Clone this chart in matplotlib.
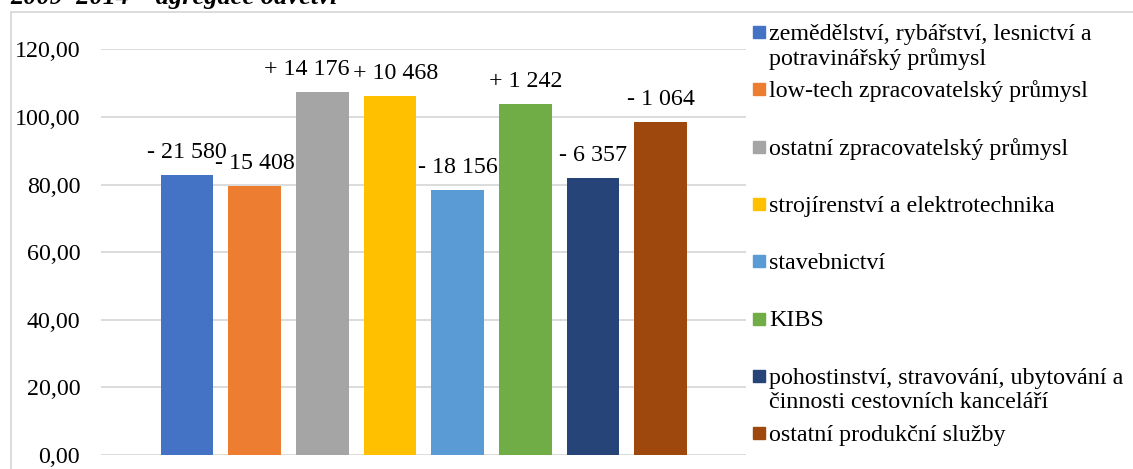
import matplotlib
matplotlib.use('Agg')
import matplotlib.pyplot as plt
from matplotlib.patches import Rectangle

plt.rcParams['font.family'] = ['Liberation Serif', 'DejaVu Serif']

# data
sectors = ['zemědělství, rybářství, lesnictví a\npotravinářský průmysl',
           'low-tech zpracovatelský průmysl',
           'ostatní zpracovatelský průmysl',
           'strojírenství a elektrotechnika',
           'stavebnictví',
           'KIBS',
           'pohostinství, stravování, ubytování a\nčinnosti cestovních kanceláří',
           'ostatní produkční služby']
index_values = [82.7, 79.5, 107.3, 106.1, 78.3, 103.7, 81.9, 98.4]
change_labels = ['- 21 580', '- 15 408', '+ 14 176', '+ 10 468',
                 '- 18 156', '+ 1 242', '- 6 357', '- 1 064']
colors = ['#4472C4', '#ED7D31', '#A5A5A5', '#FFC000',
          '#5B9BD5', '#70AD47', '#264478', '#9E480E']
yticks = [0, 20, 40, 60, 80, 100, 120]

# two labels were nudged sideways in the original (points)
label_dx = [0, 0, -11.5, 4.3, 0, 0, 0, 0]

W, H = 1133, 469
FS = 17.3
fig = plt.figure(figsize=(W / 100, H / 100), dpi=100)

# outer chart border (cut by image edges on right/bottom)
fig.patches.append(Rectangle((11 / W, -0.1), 1.2, 1 - 12 / H + 0.1,
                             transform=fig.transFigure, fill=False,
                             edgecolor='#d9d9d9', lw=1.3))

# cut-off caption above the chart
fig.text(10 / W, 1 - 4 / H, '2009–2014 – agregace odvětví', fontsize=19,
         fontweight='bold', fontstyle='italic', va='baseline', ha='left')

ax = fig.add_axes([101 / W, (H - 455) / H, 645 / W, (455 - 49.3) / H])
x = range(len(index_values))
ax.bar(x, index_values, width=0.78, color=colors, zorder=3)

for i, (v, lbl) in enumerate(zip(index_values, change_labels)):
    ax.annotate(lbl, xy=(i, v), xytext=(label_dx[i], 12.4),
                textcoords='offset points',
                ha='center', va='baseline', fontsize=FS, zorder=4)

ax.set_xlim(-1.27, 8.26)
ax.set_ylim(0, 120)
ax.set_yticks(yticks)
ax.set_yticklabels([f'{t:.2f}'.replace('.', ',') for t in yticks], fontsize=FS)
ax.set_xticks([])
ax.tick_params(axis='y', length=0, pad=15)
ax.grid(axis='y', color='#d9d9d9', lw=1.3, zorder=0)
for s in ax.spines.values():
    s.set_visible(False)

# legend, drawn by hand
line_gap = 24.7
for i, (name, c) in enumerate(zip(sectors, colors)):
    cy = 32 + 57.3 * i
    fig.patches.append(Rectangle((753 / W, 1 - (cy + 6) / H), 12 / W, 12 / H,
                                 transform=fig.transFigure, color=c))
    for k, line in enumerate(name.split('\n')):
        fig.text(769 / W, 1 - (cy + 8 + k * line_gap) / H, line,
                 fontsize=FS, va='baseline', ha='left')

fig.savefig('out.png', dpi=100)
